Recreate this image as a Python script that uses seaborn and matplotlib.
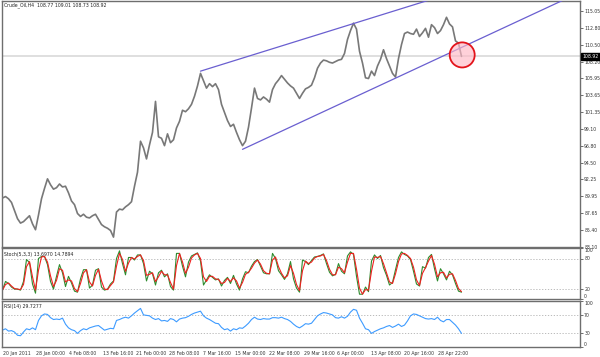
import numpy as np
import matplotlib
matplotlib.use("Agg")
import matplotlib.pyplot as plt
import matplotlib.transforms as mtransforms
from matplotlib.patches import Ellipse
import seaborn as sns

# H4 bar index of each sample (one sample every 3 bars)
bars = list(range(0, 460, 3))

price = [
    89.7, 89.9, 89.6, 89.1, 88.0, 86.9, 86.3, 86.5, 86.9, 87.3,
    86.2, 85.4, 87.4, 89.6, 91.0, 92.3, 91.5, 90.9, 91.1, 91.6,
    91.2, 91.3, 90.4, 89.3, 88.8, 87.6, 87.2, 87.5, 87.1, 87.0,
    87.3, 87.5, 86.8, 86.1, 85.8, 85.6, 85.3, 84.4, 87.8, 88.2,
    88.1, 88.5, 88.8, 89.2, 91.3, 93.2, 97.4, 96.5, 95.0, 96.9,
    98.6, 102.8, 98.0, 97.8, 96.8, 98.4, 97.2, 97.6, 99.2, 100.1,
    101.6, 101.4, 101.8, 102.4, 103.5, 104.9, 106.6, 105.6, 104.6, 105.2,
    104.8, 105.2, 104.4, 102.4, 101.3, 100.2, 99.4, 99.7, 98.6, 97.6,
    96.8, 97.4, 99.3, 101.9, 104.6, 103.2, 103.0, 103.4, 103.1, 102.7,
    104.4, 105.2, 105.7, 106.3, 105.8, 105.3, 104.9, 104.6, 103.9, 103.2,
    103.9, 104.5, 104.7, 105.0, 106.0, 107.3, 108.0, 108.4, 108.3, 108.1,
    108.0, 108.2, 108.4, 108.5, 109.3, 111.2, 112.4, 113.4, 112.6, 109.6,
    108.0, 106.0, 105.9, 106.9, 106.3, 107.6, 108.5, 109.8, 108.6, 107.6,
    106.6, 106.1, 108.6, 110.5, 112.0, 112.2, 112.0, 111.9, 112.6, 111.6,
    112.1, 112.7, 111.5, 113.2, 112.8, 112.0, 112.4, 113.2, 114.2, 113.3,
    112.9, 111.0, 110.7, 108.9,
]

stoch_main = [
    18, 35, 31, 24, 20, 20, 18, 35, 78, 72,
    30, 12, 80, 84, 84, 68, 35, 20, 45, 68,
    52, 25, 45, 32, 16, 14, 40, 58, 58, 22,
    28, 57, 60, 24, 18, 20, 30, 36, 80, 95,
    70, 48, 82, 82, 77, 87, 87, 70, 36, 55,
    50, 28, 52, 57, 44, 50, 25, 18, 90, 90,
    65, 44, 73, 85, 88, 91, 75, 28, 38, 48,
    43, 38, 40, 26, 37, 43, 31, 47, 30, 18,
    40, 54, 52, 65, 74, 78, 65, 52, 50, 50,
    90, 80, 56, 48, 39, 50, 74, 40, 22, 14,
    77, 74, 68, 76, 83, 84, 86, 89, 70, 53,
    46, 49, 70, 55, 50, 85, 93, 88, 45, 10,
    10, 24, 15, 75, 87, 80, 86, 62, 47, 28,
    33, 58, 82, 93, 88, 85, 78, 55, 30, 26,
    64, 61, 82, 88, 60, 36, 60, 50, 38, 55,
    48, 31, 16, 14,
]

stoch_signal = [
    18, 29, 32, 26, 21, 20, 19, 29, 64, 74,
    44, 18, 57, 83, 84, 73, 46, 25, 37, 60,
    57, 34, 38, 36, 21, 15, 31, 52, 58, 34,
    26, 47, 59, 36, 20, 19, 27, 34, 65, 90,
    78, 55, 71, 82, 79, 84, 87, 76, 47, 49,
    52, 35, 44, 55, 48, 48, 33, 20, 66, 90,
    73, 51, 63, 81, 87, 90, 80, 44, 35, 45,
    45, 40, 39, 31, 33, 41, 35, 42, 36, 22,
    33, 49, 53, 61, 71, 77, 69, 56, 51, 50,
    77, 83, 64, 51, 42, 46, 66, 51, 29, 17,
    56, 75, 70, 73, 81, 84, 85, 88, 76, 59,
    48, 48, 63, 60, 52, 73, 90, 90, 59, 22,
    10, 19, 18, 55, 83, 82, 84, 70, 52, 34,
    31, 50, 74, 89, 90, 86, 80, 63, 38, 27,
    51, 62, 75, 86, 69, 44, 52, 53, 42, 49,
    50, 37, 21, 15,
]

rsi = [
    37, 40, 35, 36, 33, 26, 25, 33, 40, 38,
    42, 38, 58, 68, 72, 71, 64, 60, 61, 60,
    63, 50, 42, 38, 36, 30, 36, 40, 38, 42,
    44, 46, 47, 42, 37, 39, 41, 40, 58, 60,
    63, 65, 63, 68, 74, 79, 84, 70, 69, 68,
    63, 60, 62, 57, 58, 56, 62, 60, 55, 61,
    63, 64, 67, 71, 74, 76, 78, 68, 63, 60,
    56, 52, 51, 43, 38, 40, 35, 40, 38, 42,
    41, 46, 52, 60, 65, 61, 60, 62, 61, 61,
    64, 64, 63, 65, 62, 60, 56, 50, 45, 42,
    46, 51, 50, 52, 60, 68, 72, 75, 74, 72,
    70, 64, 63, 66, 63, 67, 76, 82, 80, 63,
    52, 40, 38, 30, 34, 37, 40, 42, 45, 47,
    43, 46, 50, 45, 48, 57, 68, 72, 71, 68,
    65, 62, 61, 62, 60, 65, 58, 55, 60, 60,
    54, 48, 40, 30,
]

price_ticks = [115.05, 112.80, 110.50, 108.20, 105.95, 103.65, 101.35, 99.10,
               96.80, 94.50, 92.25, 89.95, 87.65, 85.40, 83.10]
date_ticks = [0, 33, 66, 100, 133, 166, 200, 232, 266, 301, 334, 368, 401, 435]
date_labels = ["20 Jan 2011", "28 Jan 00:00", "4 Feb 08:00", "13 Feb 16:00",
               "21 Feb 00:00", "28 Feb 08:00", "7 Mar 16:00", "15 Mar 00:00",
               "22 Mar 08:00", "29 Mar 16:00", "6 Apr 00:00", "13 Apr 08:00",
               "20 Apr 16:00", "28 Apr 22:00"]

# rising wedge trendlines, two (bar, price) anchors each, drawn as rays
upper_line = [(198, 106.9), (351, 113.35)]
lower_line = [(240, 96.3), (393, 105.95)]
last_price = 108.92
breakout = (459.7, 109.1)

sns.set_style("white")
plt.rcParams['font.family'] = ['DejaVu Sans']
FS = 3.3
SPINE = '#6e6e6e'

fig = plt.figure(figsize=(6.0, 3.57), dpi=100)
ax = fig.add_axes([2 / 600, 1 - 247 / 357, 578 / 600, 246 / 357])
ax_st = fig.add_axes([2 / 600, 1 - 299.3 / 357, 578 / 600, 51 / 357], sharex=ax)
ax_rsi = fig.add_axes([2 / 600, 1 - 347.3 / 357, 578 / 600, 46.3 / 357], sharex=ax)

xmax = 577.5

# --- main price panel
ax.axhline(last_price, color='#d9d9d9', lw=1.2, zorder=1)
sns.lineplot(x=bars, y=price, ax=ax, color='#787878', lw=1.2, zorder=3)
for (x0, y0), (x1, y1) in [upper_line, lower_line]:
    slope = (y1 - y0) / (x1 - x0)
    ax.plot([x0, xmax], [y0, y0 + slope * (xmax - x0)], color='#6a5fd0', lw=0.9, zorder=4)
ax.add_patch(Ellipse(breakout, width=25, height=3.4, facecolor='#ffb9c6', alpha=0.65,
                     edgecolor='none', zorder=5))
ax.add_patch(Ellipse(breakout, width=25, height=3.4, facecolor='none',
                     edgecolor='#e3141b', lw=1.3, zorder=6))
ax.set_ylim(83.06, 116.41)
ax.set_yticks(price_ticks)
ax.set_yticklabels(["%.2f" % v for v in price_ticks])
ax.text(0.004, 0.993, "Crude_Oil,H4  108.77 109.01 108.73 108.92", transform=ax.transAxes,
        ha='left', va='top', fontsize=FS, color='#222222')
lbl = mtransforms.blended_transform_factory(ax.transAxes, ax.transData)
ax.text(1.004, last_price, "%.2f" % last_price, transform=lbl, ha='left', va='center',
        fontsize=FS, color='white', zorder=10,
        bbox=dict(boxstyle='square,pad=0.25', fc='black', ec='black'))

# --- stochastic panel
for lev in (80, 20):
    ax_st.axhline(lev, color='#b0b0b0', lw=0.6, ls=(0, (1.5, 2)))
sns.lineplot(x=bars, y=stoch_main, ax=ax_st, color='#2e8b2e', lw=0.8)
sns.lineplot(x=bars, y=stoch_signal, ax=ax_st, color='#f02020', lw=0.8)
ax_st.set_ylim(0, 100)
ax_st.set_yticks([100, 80, 20, 0])
ax_st.text(0.004, 0.93, "Stoch(5,3,3) 13.6970 14.7894", transform=ax_st.transAxes,
           ha='left', va='top', fontsize=FS, color='#222222')

# --- RSI panel
for lev in (70, 30):
    ax_rsi.axhline(lev, color='#b0b0b0', lw=0.6, ls=(0, (1.5, 2)))
sns.lineplot(x=bars, y=rsi, ax=ax_rsi, color='#3d9bff', lw=0.8)
ax_rsi.set_ylim(0, 100)
ax_rsi.set_yticks([100, 70, 30, 0])
ax_rsi.text(0.004, 0.93, "RSI(14) 29.7277", transform=ax_rsi.transAxes,
            ha='left', va='top', fontsize=FS, color='#222222')

for a in (ax, ax_st, ax_rsi):
    a.set_xlim(-0.5, xmax)
    a.set_xlabel("")
    a.set_ylabel("")
    a.yaxis.tick_right()
    a.tick_params(axis='y', labelsize=FS, length=2, width=0.5, pad=1, colors='#333333')
    a.tick_params(axis='x', labelsize=FS, length=2, width=0.5, pad=1, colors='#333333')
    for s in a.spines.values():
        s.set_color(SPINE)
        s.set_linewidth(1.0)
    if a.get_legend():
        a.get_legend().remove()

for a in (ax_st, ax_rsi):
    labs = a.get_yticklabels()
    labs[0].set_verticalalignment('top')
    labs[-1].set_verticalalignment('bottom')

for a in (ax, ax_st):
    a.tick_params(axis='x', bottom=False, labelbottom=False)
ax_rsi.set_xticks(date_ticks)
ax_rsi.set_xticklabels(date_labels)
shift = mtransforms.ScaledTranslation(0.5 / 100, 0, fig.dpi_scale_trans)
for t in ax_rsi.get_xticklabels():
    t.set_horizontalalignment('left')
    t.set_transform(t.get_transform() + shift)

fig.savefig("out.png", dpi=100)
